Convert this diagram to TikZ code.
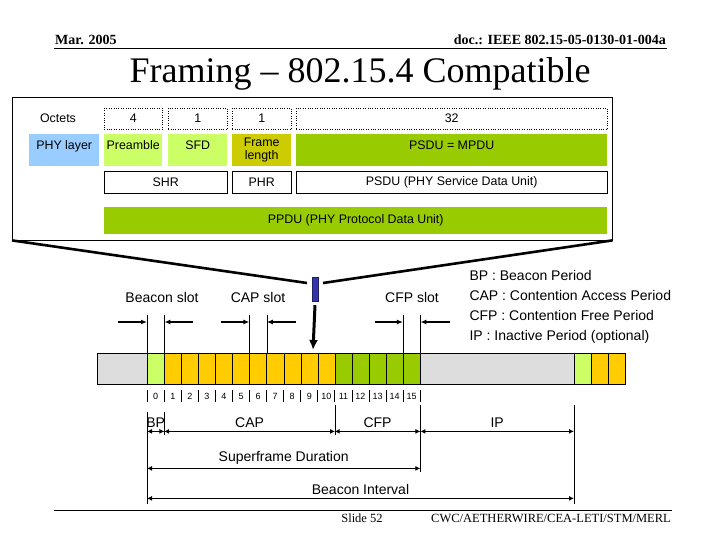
\documentclass[tikz,border=0pt]{standalone}
\usepackage{fontspec}
\setmainfont{Liberation Serif}
\newfontfamily\arialfont{Liberation Sans}
\definecolor{phyblue}{RGB}{153,204,255}
\definecolor{limegreen}{RGB}{204,255,102}
\definecolor{olivey}{RGB}{204,204,0}
\definecolor{leafgreen}{RGB}{153,204,0}
\definecolor{slotorange}{RGB}{255,204,0}
\definecolor{idlegray}{RGB}{221,221,221}
\definecolor{markblue}{RGB}{51,51,170}
\usetikzlibrary{arrows.meta, positioning, calc}
\newcommand{\tabfont}{\arialfont\fontsize{12.4}{13.5}\selectfont}
\newcommand{\lblfont}{\arialfont\fontsize{14}{20}\selectfont}
\newcommand{\numfont}{\arialfont\fontsize{9}{10}\selectfont}
\tikzset{
  cl/.style={draw, anchor=north west, inner sep=0pt, minimum width=#1,
             align=center, font=\tabfont},
  octB/.style={cl=#1, dotted, minimum height=21pt},
  rowB/.style={cl=#1, draw=none, minimum height=32pt},
  rowT/.style={rowB=#1, text height=9pt, text depth=10pt},
  hdrB/.style={cl=#1, minimum height=22pt},
  slot/.style={draw, anchor=north west, minimum width=17.0625pt,
               minimum height=31pt, inner sep=0pt},
  zoomln/.style={line width=2.6pt},
  bigarr/.style={-{Latex[length=10pt,width=9pt]}, line width=3pt},
  sarr/.style={-{Latex[length=6pt,width=5pt]}, line width=1.5pt},
  dim/.style={{Latex[length=5pt,width=5pt]}-{Latex[length=5pt,width=5pt]},
              line width=1.6pt},
}

\begin{document}
\begin{tikzpicture}[x=1pt, y=-1pt]
    \useasboundingbox (0,0) rectangle (720,540);

    % ── HEADER ──────────────────────────────────────────────
    \node[font=\bfseries\fontsize{14}{16}\selectfont, anchor=south west, inner sep=1pt]
      (date) at (54,46) {Mar. 2005};
    \node[font=\bfseries\fontsize{14}{16}\selectfont, anchor=south east, inner sep=1pt]
      (doc) at (667,46) {doc.: IEEE 802.15-05-0130-01-004a};
    \coordinate (hdrL) at (54,48); \coordinate (hdrR) at (667,48);
    \draw[line width=0.8pt] (hdrL) -- (hdrR);
    \node[font=\fontsize{36}{40}\selectfont] (ttl) at (360,74) {Framing – 802.15.4 Compatible};

    % ── PHY FRAME ───────────────────────────────────────────
    \node[draw, anchor=north west, minimum width=600pt, minimum height=143pt,
          inner sep=0pt] (frm) at (12,97) {};
    % octets row
    \node[font=\tabfont] (oct) at (58,118) {Octets};
    \node[octB=58pt]  (o4)  at (104,108) {4};
    \node[octB=59pt]  (o1a) at (168,108) {1};
    \node[octB=59pt]  (o1b) at (232,108) {1};
    \node[octB=311pt] (o32) at (296,108) {32};
    % fields row
    \node[rowT=70pt, fill=phyblue]     (phy)  at (29,134)  {PHY layer};
    \node[rowT=58pt, fill=limegreen]   (pre)  at (104,134) {Preamble};
    \node[rowT=59pt, fill=limegreen]   (sfd)  at (168,134) {SFD};
    \node[rowB=59pt, fill=olivey]      (flen) at (232,134) {Frame\\length};
    \node[rowT=311pt, fill=leafgreen]  (mpdu) at (296,134) {PSDU = MPDU};
    % headers row
    \node[hdrB=123pt] (shr)  at (104,171) {SHR};
    \node[hdrB=59pt]  (phr)  at (232,171) {PHR};
    \node[hdrB=311pt] (psdu) at (296,171) {PSDU (PHY Service Data Unit)};
    % ppdu
    \node[cl=503pt, draw=none, fill=leafgreen, minimum height=27pt]
      (ppdu) at (104,207) {PPDU (PHY Protocol Data Unit)};

    % ── ZOOM ────────────────────────────────────────────────
    \node[draw=markblue!60!black, fill=markblue, minimum width=6pt,
          minimum height=24pt, inner sep=0pt] (mk) at (315,289) {};
    \coordinate (zl) at (307,283); \coordinate (zr) at (323,283);
    \draw[zoomln] (frm.south west) -- (zl);
    \draw[zoomln] (frm.south east) -- (zr);
    \coordinate (hit) at (313,350);
    \draw[bigarr] ([yshift=-4pt]mk.south) -- (hit);

    % ── SUPERFRAME BAR ──────────────────────────────────────
    \node[draw, fill=idlegray, anchor=north west, minimum width=528pt,
          minimum height=31pt, inner sep=0pt] (bar) at (97,353) {};
    \node[slot, fill=limegreen] (s0) at (147,353) {};
    \foreach \i in {1,...,10}
      \node[slot, fill=slotorange] (s\i) at ({147+\i*17.0625},353) {};
    \foreach \i in {11,...,15}
      \node[slot, fill=leafgreen] (s\i) at ({147+\i*17.0625},353) {};
    \node[slot, fill=limegreen]  (n0) at (574,353) {};
    \node[slot, fill=slotorange] (n1) at (591.0625,353) {};
    \node[slot, fill=slotorange] (n2) at (608.125,353) {};

    % slot numbers
    \foreach \i in {0,...,15}{
      \node[font=\numfont, inner sep=0pt] (t\i) at ([yshift=-12pt]s\i.south) {\i};
      \draw ([yshift=-6pt]s\i.south west) -- ([yshift=-18pt]s\i.south west);
    }
    \draw ([yshift=-6pt]s15.south east) -- ([yshift=-18pt]s15.south east);

    % slot widths
    \node[font=\lblfont] (bsl) at (162,297) {Beacon slot};
    \node[font=\lblfont] (csl) at (258,297) {CAP slot};
    \node[font=\lblfont] (fsl) at (412,297) {CFP slot};
    \foreach \s/\lx/\rx in {s0/118/193, s6/221/296, s15/375/450}{
      \draw (\s.north west) -- ++(0,-38);
      \draw (\s.north east) -- ++(0,-38);
      \coordinate (\s L) at (\lx,322);
      \coordinate (\s R) at (\rx,322);
      \draw[sarr] (\s L) -- (\s L -| \s.north west);
      \draw[sarr] (\s R) -- (\s R -| \s.north east);
    }

    % legend
    \node[font=\lblfont, align=left, anchor=west] (lgd) at (466,307)
      {BP : Beacon Period\\CAP : Contention Access Period\\
       CFP : Contention Free Period\\IP : Inactive Period (optional)};

    % ── PERIODS ─────────────────────────────────────────────
    \draw ([yshift=-28pt]s0.south west)  -- ([yshift=-120pt]s0.south west);
    \draw ([yshift=-28pt]s0.south east)  -- ([yshift=-51pt]s0.south east);
    \draw ([yshift=-21pt]s10.south east) -- ([yshift=-51pt]s10.south east);
    \draw ([yshift=-21pt]s15.south east) -- ([yshift=-88pt]s15.south east);
    \draw ([yshift=-21pt]n0.south west)  -- ([yshift=-120pt]n0.south west);

    \draw[dim] ([yshift=-47pt]s0.south west) -- node[above, font=\lblfont]{BP}
               ([yshift=-47pt]s0.south east);
    \draw[dim] ([yshift=-47pt]s1.south west) -- node[above, font=\lblfont]{CAP}
               ([yshift=-47pt]s10.south east);
    \draw[dim] ([yshift=-47pt]s11.south west) -- node[above, font=\lblfont]{CFP}
               ([yshift=-47pt]s15.south east);
    \draw[dim] ([yshift=-47pt]s15.south east) -- node[above, font=\lblfont]{IP}
               ([yshift=-47pt]n0.south west);
    \draw[dim] ([yshift=-84pt]s0.south west) -- node[above, font=\lblfont]{Superframe Duration}
               ([yshift=-84pt]s15.south east);
    \draw[dim] ([yshift=-114pt]s0.south west) -- node[above, font=\lblfont]{Beacon Interval}
               ([yshift=-114pt]n0.south west);

    % ── FOOTER ──────────────────────────────────────────────
    \coordinate (ftrL) at (54,510); \coordinate (ftrR) at (672,510);
    \draw[line width=0.8pt] (ftrL) -- (ftrR);
    \node[font=\fontsize{12.5}{14}\selectfont] (sld) at (362,518) {Slide 52};
    \node[font=\fontsize{12.5}{14}\selectfont, anchor=east, inner sep=0pt]
      (org) at (671,518) {CWC/AETHERWIRE/CEA-LETI/STM/MERL};
\end{tikzpicture}
\end{document}
